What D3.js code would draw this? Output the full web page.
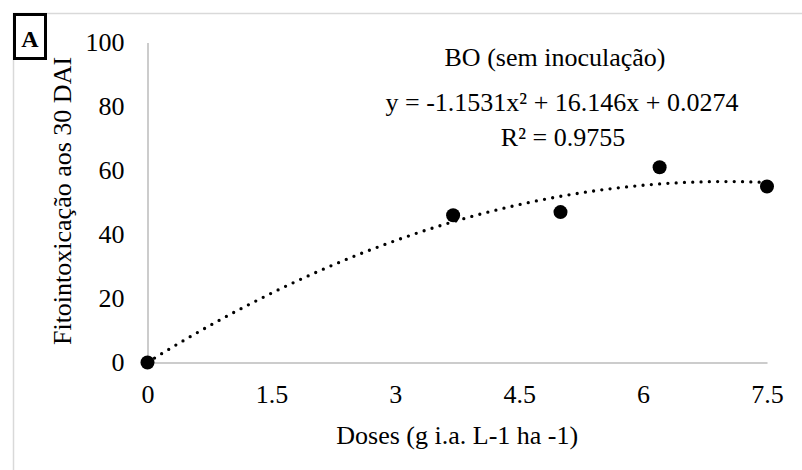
<!DOCTYPE html>
<html>
<head>
<meta charset="utf-8">
<script src="https://cdn.jsdelivr.net/npm/d3@7"></script>
<style>
  html, body { margin: 0; padding: 0; background: #fff; }
  svg { display: block; }
  text { font-family: "Liberation Serif", "Times New Roman", serif; fill: #000; }
</style>
</head>
<body>
<svg id="chart" width="802" height="470"></svg>
<script>
// Doses applied and observed phytotoxicity (%) at 30 DAI
const doses = [0, 3.7, 5, 6.2, 7.5];
const fitotox = [0, 46, 47, 61, 55];

// Quadratic trend: y = a*x^2 + b*x + c
const trendCoef = [-1.1531, 16.146, 0.0274];
const rSquared = "0.9755";

const xTicks = [0, 1.5, 3, 4.5, 6, 7.5];
const xTickLabels = ["0", "1.5", "3", "4.5", "6", "7.5"];
const yTicks = [0, 20, 40, 60, 80, 100];

const svg = d3.select("#chart");
const W = 802, H = 470;
const fs = 26;

// Chart area frame
svg.append("rect")
  .attr("x", 13.5).attr("y", 13.5)
  .attr("width", W).attr("height", H)
  .attr("fill", "#fff")
  .attr("stroke", "#d9d9d9").attr("stroke-width", 1.5);

const plot = { left: 147.5, right: 767, top: 42.5, bottom: 362.5 };

const x = d3.scaleLinear().domain([0, 7.5]).range([plot.left, plot.right]);
const y = d3.scaleLinear().domain([0, 100]).range([plot.bottom, plot.top]);

// Y axis
const yAxis = svg.append("g")
  .attr("transform", `translate(${plot.left},0)`)
  .call(d3.axisLeft(y).tickValues(yTicks).tickSize(0).tickSizeOuter(0).tickPadding(23));
yAxis.select(".domain").attr("stroke", "#cccccc").attr("stroke-width", 2);
yAxis.selectAll("text").attr("font-size", fs).attr("font-family", "Liberation Serif");

// X axis
const xAxis = svg.append("g")
  .attr("transform", `translate(0,${plot.bottom})`)
  .call(d3.axisBottom(x).tickValues(xTicks).tickSize(0).tickSizeOuter(0).tickPadding(22)
    .tickFormat((d, i) => xTickLabels[i]));
xAxis.select(".domain").attr("stroke", "#cccccc").attr("stroke-width", 2);
xAxis.selectAll("text").attr("font-size", fs).attr("font-family", "Liberation Serif");

// Trend curve (dotted)
const poly = v => trendCoef[0] * v * v + trendCoef[1] * v + trendCoef[2];
const curveX = d3.range(0, 7.5 + 1e-9, 0.05);
svg.append("path")
  .datum(curveX)
  .attr("d", d3.line().x(d => x(d)).y(d => y(poly(d))))
  .attr("fill", "none")
  .attr("stroke", "#000")
  .attr("stroke-width", 3.3)
  .attr("stroke-linecap", "round")
  .attr("stroke-dasharray", "0 8.3");

// Observations
svg.append("g").selectAll("circle")
  .data(doses.map((d, i) => [d, fitotox[i]]))
  .join("circle")
  .attr("cx", d => x(d[0]))
  .attr("cy", d => y(d[1]))
  .attr("r", 7)
  .attr("fill", "#000");

// Axis titles
svg.append("text")
  .attr("x", (plot.left + plot.right) / 2).attr("y", 444)
  .attr("text-anchor", "middle").attr("font-size", fs)
  .text("Doses (g i.a. L-1 ha -1)");

svg.append("text")
  .attr("transform", "translate(71,201) rotate(-90)")
  .attr("text-anchor", "middle").attr("font-size", fs)
  .text("Fitointoxicação aos 30 DAI");

// Series label and equation
const ann = svg.append("g").attr("font-size", fs).attr("text-anchor", "middle");
ann.append("text").attr("x", 555).attr("y", 66).text("BO (sem inoculação)");
ann.append("text").attr("x", 562).attr("y", 111)
  .text(`y = ${trendCoef[0]}x² + ${trendCoef[1]}x + ${trendCoef[2]}`);
ann.append("text").attr("x", 563).attr("y", 146).text(`R² = ${rSquared}`);

// Panel letter
svg.append("rect")
  .attr("x", 14.5).attr("y", 14.5).attr("width", 31).attr("height", 44)
  .attr("fill", "#fff").attr("stroke", "#000").attr("stroke-width", 3);
svg.append("text")
  .attr("x", 30).attr("y", 47)
  .attr("text-anchor", "middle")
  .attr("font-size", 24).attr("font-weight", "bold")
  .text("A");
</script>
</body>
</html>
